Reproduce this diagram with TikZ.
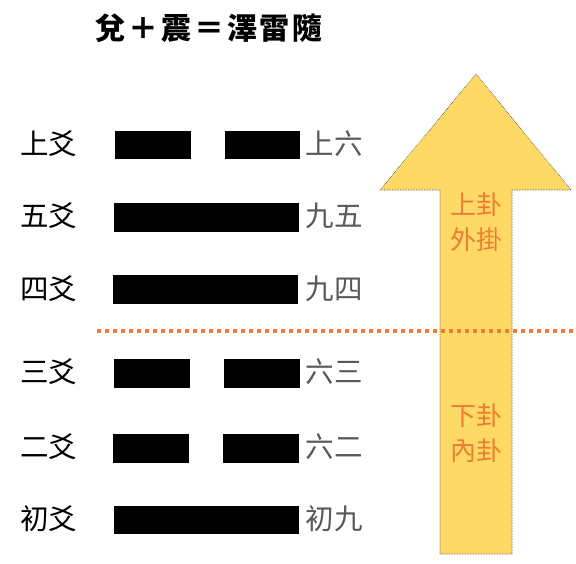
\documentclass[tikz,border=0pt]{standalone}
\usepackage{fontspec}
\newfontfamily\cjk{Noto Sans CJK TC}
\definecolor{arrowfill}{HTML}{FFD966}
\definecolor{orangetxt}{HTML}{ED7D31}
\definecolor{graytxt}{HTML}{595959}
\begin{document}
\begin{tikzpicture}[x=1pt,y=-1pt,
  lefttxt/.style={font=\cjk\fontsize{28.5}{28.5}\selectfont, text=black, inner sep=0pt, anchor=center},
  righttxt/.style={font=\cjk\fontsize{28.5}{28.5}\selectfont, text=graytxt, inner sep=0pt, anchor=center},
  guatxt/.style={font=\cjk\fontsize{26}{26}\selectfont, text=orangetxt, inner sep=0pt, anchor=center},
  yaobar/.style={fill=black},
  bigarrow/.style={fill=arrowfill, draw=black!80, line width=0.6pt, densely dotted},
  divider/.style={draw=orangetxt, line width=3.5pt, dash pattern=on 4pt off 4pt}]
\useasboundingbox (0,0) rectangle (576,564);
% title
\node[font=\cjk\bfseries\fontsize{30}{30}\selectfont, inner sep=0pt] (title) at (209,28) {兌\kern3pt＋\kern3pt震\kern3pt＝\kern3pt澤\kern3pt雷\kern3pt隨};
% arrow
\draw[bigarrow] (440,554) -- (440,190) -- (380,190) -- (476,74) -- (571,190) -- (512,190) -- (512,554) -- cycle;
% divider
\coordinate (dl) at (97,331);
\coordinate (dr) at (576,331);
\draw[divider] (dl) -- (dr);
% bars
\fill[yaobar] (115,131) rectangle (191,159);
\fill[yaobar] (225,131) rectangle (300,159);
\fill[yaobar] (114,203) rectangle (299,232);
\fill[yaobar] (113,275) rectangle (298,304);
\fill[yaobar] (114,359) rectangle (190,388);
\fill[yaobar] (224,359) rectangle (300,388);
\fill[yaobar] (113,434) rectangle (189,463);
\fill[yaobar] (223,434) rectangle (299,463);
\fill[yaobar] (114,506) rectangle (299,534);
% left labels
\node[lefttxt] (l6) at (48.5,144) {上爻};
\node[lefttxt] (l5) at (48.5,216) {五爻};
\node[lefttxt] (l4) at (48.5,289) {四爻};
\node[lefttxt] (l3) at (48.5,372) {三爻};
\node[lefttxt] (l2) at (48.5,447) {二爻};
\node[lefttxt] (l1) at (48.5,519) {初爻};
% right labels
\node[righttxt] (r6) at (334,144) {上六};
\node[righttxt] (r5) at (334,216) {九五};
\node[righttxt] (r4) at (334,289) {九四};
\node[righttxt] (r3) at (334,372) {六三};
\node[righttxt] (r2) at (334,447) {六二};
\node[righttxt] (r1) at (334,519) {初九};
% gua labels
\node[guatxt] (u1) at (476,205) {上卦};
\node[guatxt] (u2) at (476,240) {外掛};
\node[guatxt] (d1) at (476,416) {下卦};
\node[guatxt] (d2) at (476,451) {內卦};
\end{tikzpicture}
\end{document}
